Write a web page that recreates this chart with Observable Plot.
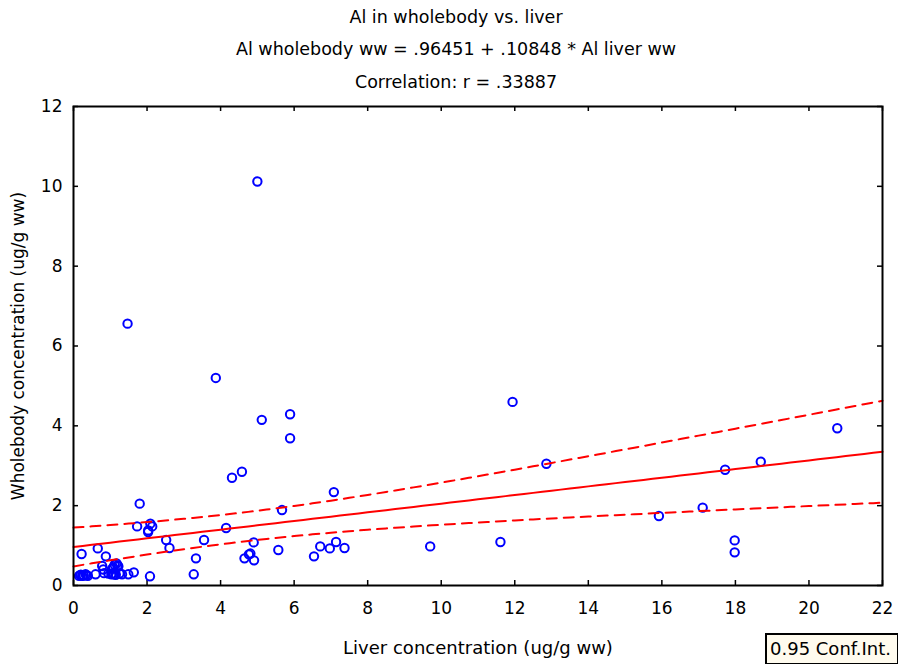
<!DOCTYPE html>
<html>
<head>
<meta charset="utf-8">
<script src="https://cdn.jsdelivr.net/npm/d3@7"></script>
<script src="https://cdn.jsdelivr.net/npm/@observablehq/plot@0.6"></script>
<style>
  body { margin: 0; background: #fff; font-family: "DejaVu Sans", Verdana, sans-serif; }
  #chart { position: relative; width: 901px; height: 668px; }
  #chart svg { display: block; }
  .ci-key {
    position: absolute; left: 765px; top: 633px; width: 127px; height: 28px;
    background: #fffbee; border: 1px solid #000; border-left-width: 2px; border-top-width: 2px;
    font-size: 18px; line-height: 28px; padding-left: 3px; color: #000; white-space: nowrap;
  }
</style>
</head>
<body>
<div id="chart"></div>
<script>
// Al concentrations (ug/g wet weight), one entry per fish
const liver = [
  0.15, 0.24, 0.33, 0.39, 0.22, 0.60, 0.66, 0.78, 0.81, 0.83,
  0.88, 1.03, 1.06, 1.10, 1.12, 1.17, 1.22, 1.32, 1.49, 1.64,
  1.47, 1.73, 1.80, 2.03, 2.03, 2.09, 2.14, 2.08, 2.52, 2.61,
  3.27, 3.33, 3.55, 3.87, 4.15, 4.31, 4.58, 4.65, 4.77, 4.81,
  4.91, 4.90, 5.00, 5.12, 5.57, 5.67, 5.89, 5.89, 6.54, 6.71,
  6.97, 7.08, 7.14, 7.37, 9.70, 11.61, 11.94, 12.86, 15.92, 17.11,
  17.72, 17.98, 17.98, 18.69, 20.77,
  0.18, 0.28, 0.20, 0.36, 1.05, 1.15, 1.20, 1.08, 0.95, 1.25
];
const wholebody = [
  0.24, 0.24, 0.28, 0.24, 0.79, 0.28, 0.93, 0.49, 0.40, 0.31,
  0.73, 0.28, 0.42, 0.28, 0.52, 0.55, 0.48, 0.28, 0.28, 0.33,
  6.56, 1.48, 2.05, 1.38, 1.34, 1.55, 1.48, 0.23, 1.14, 0.94,
  0.28, 0.68, 1.14, 5.20, 1.44, 2.70, 2.85, 0.68, 0.78, 0.80,
  0.63, 1.08, 10.12, 4.15, 0.89, 1.89, 4.29, 3.69, 0.73, 0.98,
  0.93, 2.34, 1.09, 0.94, 0.98, 1.09, 4.60, 3.05, 1.74, 1.95,
  2.90, 1.13, 0.83, 3.10, 3.94,
  0.26, 0.25, 0.27, 0.26, 0.30, 0.27, 0.50, 0.45, 0.30, 0.30
];

// Fitted model and correlation
const intercept = 0.96451;
const slope = 0.10848;
const corr = 0.33887;
const confLevel = 0.95;

const titleLines = [
  "Al in wholebody vs. liver",
  "Al wholebody ww = .96451 + .10848 * Al liver ww",
  "Correlation: r = .33887"
];
const xLabel = "Liver concentration (ug/g ww)";
const yLabel = "Wholebody concentration (ug/g ww)";
const xTicks = [0, 2, 4, 6, 8, 10, 12, 14, 16, 18, 20, 22];
const yTicks = [0, 2, 4, 6, 8, 10, 12];
const xDomain = [0, 22];
const yDomain = [0, 12];

const points = liver.map((x, i) => ({x, y: wholebody[i]}));

// 95% confidence band for the mean response around the fitted line
const n = points.length;
const xMean = d3.mean(liver);
const sxx = d3.sum(liver, x => (x - xMean) ** 2);
const sse = d3.sum(points, p => (p.y - (intercept + slope * p.x)) ** 2);
const sRes = Math.sqrt(sse / (n - 2));
const tCrit = 1.993; // t(0.975, n - 2)
const band = d3.range(xDomain[0], xDomain[1] + 1e-9, 0.25).map(x => {
  const yhat = intercept + slope * x;
  const h = tCrit * sRes * Math.sqrt(1 / n + (x - xMean) ** 2 / sxx);
  return {x, yhat, lo: yhat - h, hi: yhat + h};
});

const width = 901, height = 668;
const margin = {top: 106, right: 19, bottom: 83, left: 73};
const innerW = width - margin.left - margin.right;
const innerH = height - margin.top - margin.bottom;
const tickPx = 5;
const tickX = tickPx * (xDomain[1] - xDomain[0]) / innerW;
const tickY = tickPx * (yDomain[1] - yDomain[0]) / innerH;

const font = "DejaVu Sans, Verdana, sans-serif";
const fs = 17;
const titleFs = 17.5;

const chart = Plot.plot({
  width, height,
  marginTop: margin.top, marginRight: margin.right,
  marginBottom: margin.bottom, marginLeft: margin.left,
  style: {fontFamily: font, fontSize: fs + "px", color: "#000", background: "#fff"},
  x: {domain: xDomain, ticks: xTicks},
  y: {domain: yDomain, ticks: yTicks},
  marks: [
    Plot.axisX(xTicks, {tickSize: 0, tickPadding: 16, fontSize: fs, label: null, tickFormat: d => String(d)}),
    Plot.axisY(yTicks, {tickSize: 0, tickPadding: 11, fontSize: fs, label: null, tickFormat: d => String(d)}),
    // inward tick marks on all four sides
    Plot.ruleX(xTicks, {x: d => d, y1: yDomain[0], y2: yDomain[0] + tickY, stroke: "#000", strokeWidth: 1.5}),
    Plot.ruleX(xTicks, {x: d => d, y1: yDomain[1], y2: yDomain[1] - tickY, stroke: "#000", strokeWidth: 1.5}),
    Plot.ruleY(yTicks, {y: d => d, x1: xDomain[0], x2: xDomain[0] + tickX, stroke: "#000", strokeWidth: 1.5}),
    Plot.ruleY(yTicks, {y: d => d, x1: xDomain[1], x2: xDomain[1] - tickX, stroke: "#000", strokeWidth: 1.5}),
    Plot.dot(points, {x: "x", y: "y", r: 4.2, stroke: "#0000ff", strokeWidth: 2, fill: "none"}),
    Plot.line(band, {x: "x", y: "hi", stroke: "#ff0000", strokeWidth: 2, strokeDasharray: "10,7"}),
    Plot.line(band, {x: "x", y: "lo", stroke: "#ff0000", strokeWidth: 2, strokeDasharray: "10,7"}),
    Plot.line(band, {x: "x", y: "yhat", stroke: "#ff0000", strokeWidth: 2}),
    Plot.frame({stroke: "#000", strokeWidth: 2}),
    // titles above the frame
    Plot.text([titleLines[0]], {text: d => d, frameAnchor: "top", lineAnchor: "middle", dx: -22, dy: -89, fontSize: titleFs}),
    Plot.text([titleLines[1]], {text: d => d, frameAnchor: "top", lineAnchor: "middle", dx: -22, dy: -57, fontSize: titleFs}),
    Plot.text([titleLines[2]], {text: d => d, frameAnchor: "top", lineAnchor: "middle", dx: -22, dy: -24, fontSize: titleFs}),
    // axis titles
    Plot.text([xLabel], {text: d => d, frameAnchor: "bottom", lineAnchor: "middle", dy: 63, fontSize: 18}),
    Plot.text([yLabel], {text: d => d, frameAnchor: "left", textAnchor: "middle", lineAnchor: "middle", dx: -55, rotate: -90, fontSize: fs})
  ]
});

const holder = document.getElementById("chart");
holder.appendChild(chart);
const key = document.createElement("div");
key.className = "ci-key";
key.textContent = confLevel.toFixed(2) + " Conf.Int.";
holder.appendChild(key);
</script>
</body>
</html>
